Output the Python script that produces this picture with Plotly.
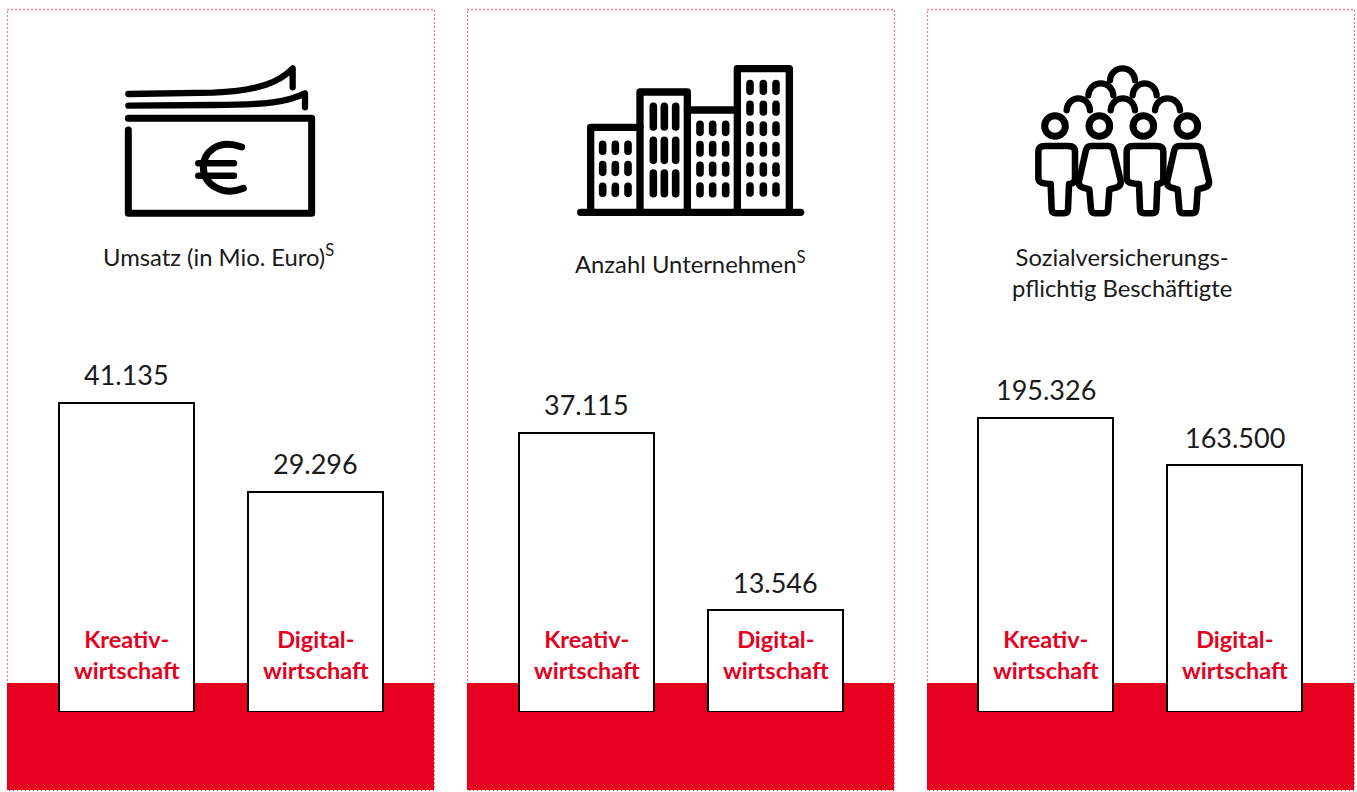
import re
import plotly.graph_objects as go

W, H = 1357, 792
RED = "#E5001F"
INK = "#1a1a1a"
FONT = "Lato"

categories = ["Kreativ-<br>wirtschaft", "Digital-<br>wirtschaft"]
umsatz = [41135, 29296]
unternehmen = [37115, 13546]
beschaeftigte = [195326, 163500]
umsatz_labels = ["41.135", "29.296"]
unternehmen_labels = ["37.115", "13.546"]
beschaeftigte_labels = ["195.326", "163.500"]
titles = ["Umsatz (in Mio. Euro)<sup>S</sup>", "Anzahl Unternehmen<sup>S</sup>",
          "Sozialversicherungs-<br>pflichtig Beschäftigte"]

BASE_PX = 712
panels = [
    dict(left=7, right=434, bar0=126.5, values=umsatz, labels=umsatz_labels, scale=309.5 / 41135,
         title=titles[0], tx=219, ty=255),
    dict(left=467, right=894, bar0=586.5, values=unternehmen, labels=unternehmen_labels, scale=309.5 / 41135,
         title=titles[1], tx=690, ty=262),
    dict(left=927, right=1354, bar0=1045.5, values=beschaeftigte, labels=beschaeftigte_labels, scale=294.5 / 195326,
         title=titles[2], tx=1122, ty=272),
]
STEP = 189
BAR_W = 135

fig = go.Figure()
shapes, annotations = [], []


def px(x):
    return x / W


def py(y):
    return 1 - y / H


def path(ox, oy, d, s=3):
    toks = re.findall(r"[A-Za-z]|-?\d+\.?\d*", d)
    out, i = [], 0
    for t in toks:
        if t.isalpha():
            out.append(t)
        else:
            v = float(t)
            if i % 2 == 0:
                out.append(f"{px(ox + v / s):.5f}")
            else:
                out.append(f"{py(oy + v / s):.5f}")
            i += 1
    return " ".join(out)


def stroke(ox, oy, d, width):
    shapes.append(dict(type="path", xref="paper", yref="paper", layer="above",
                       path=path(ox, oy, d), line=dict(color="#000000", width=width),
                       fillcolor="rgba(0,0,0,0)"))


for i, p in enumerate(panels):
    suffix = "" if i == 0 else str(i + 1)
    # background
    shapes.append(dict(type="rect", xref="paper", yref="paper", layer="below",
                       x0=px(p["left"] + 0.5), x1=px(p["right"] + 0.5), y0=py(9.5), y1=py(790),
                       line=dict(color=RED, width=1.3, dash="1px,3px"), fillcolor="white"))
    shapes.append(dict(type="rect", xref="paper", yref="paper", layer="below",
                       x0=px(p["left"]), x1=px(p["right"]), y0=py(683), y1=py(790),
                       line=dict(width=0), fillcolor=RED))
    fig.add_trace(go.Bar(
        x=categories, y=p["values"], width=BAR_W / STEP,
        marker=dict(color="white", line=dict(color="#000000", width=2)),
        xaxis="x" + suffix, yaxis="y" + suffix, showlegend=False, hoverinfo="skip",
    ))
    fig.update_layout({
        "xaxis" + suffix: dict(
            domain=[p["left"] / W, p["right"] / W], type="category", anchor="y" + suffix,
            range=[(p["left"] - p["bar0"]) / STEP, (p["right"] - p["bar0"]) / STEP],
            visible=False, fixedrange=True),
        "yaxis" + suffix: dict(
            domain=[(H - BASE_PX) / H, 1], anchor="x" + suffix,
            range=[0, BASE_PX / p["scale"]], visible=False, fixedrange=True),
    })
    for c, v, lab in zip(categories, p["values"], p["labels"]):
        annotations.append(dict(
            x=c, y=0, xref="x" + suffix, yref="y" + suffix, text=c, showarrow=False,
            yshift=58, yanchor="middle", xanchor="center", align="center",
            font=dict(family=FONT, size=23.5, color=RED, weight="bold")))
        annotations.append(dict(
            x=c, y=v, xref="x" + suffix, yref="y" + suffix, text=lab, showarrow=False,
            yshift=9.5, yanchor="bottom", xanchor="center", align="center",
            font=dict(family=FONT, size=27, color=INK)))
    annotations.append(dict(
        x=px(p["tx"]), y=py(p["ty"]), xref="paper", yref="paper", text=p["title"], showarrow=False,
        yanchor="middle", xanchor="center", align="center",
        font=dict(family=FONT, size=23.8, color=INK)))

# Euro note icon
ox, oy = 100, 50
stroke(ox, oy, "M 85 132 L 340 128 C 480 122 540 95 578 55 L 578 112", 6.3)
stroke(ox, oy, "M 85 167 L 340 165 C 500 165 565 155 615 130 L 615 172", 6.3)
stroke(ox, oy, "M 85 205 L 635 205 L 635 490 L 85 490 L 85 240", 7)
stroke(ox, oy, "M 425 291 C 350 265 310 310 310 350 C 310 405 370 440 430 415", 7)
stroke(ox, oy, "M 295 340 L 402 340", 6.5)
stroke(ox, oy, "M 295 377 L 402 377", 6.5)

# Buildings icon
ox, oy = 560, 50
stroke(ox, oy, "M 62 487 L 722 487", 7.3)
stroke(ox, oy, "M 92 487 L 92 232 L 240 232", 7.3)
stroke(ox, oy, "M 240 487 L 240 126 L 382 126 L 382 487", 7.3)
stroke(ox, oy, "M 382 180 L 532 180", 7.3)
stroke(ox, oy, "M 532 487 L 532 56 L 688 56 L 688 487", 7.3)
windows = [
    ([128, 166, 204], [(272, 315), (333, 378), (398, 441)]),
    ([280, 313, 347], [(158, 242), (260, 342), (358, 442)]),
    ([420, 458, 497], [(212, 258), (273, 320), (335, 380), (397, 442)]),
    ([570, 610, 648], [(90, 135), (152, 197), (214, 258), (276, 320), (337, 380), (397, 440)]),
]
for xs, rows in windows:
    for x in xs:
        for a, b in rows:
            stroke(ox, oy, f"M {x} {a + 11} L {x} {b - 11}", 7.6)

# People icon
ox, oy = 1000, 50
for (a, b, top) in [(330, 405, 55), (265, 340, 100), (398, 470, 100),
                    (200, 270, 145), (332, 405, 145), (465, 540, 145)]:
    y0 = top + 36
    stroke(ox, oy, f"M {a} {y0} C {a + 4} {top - 12} {b - 4} {top - 12} {b} {y0}", 6.3)
for cx in [165, 298, 430, 562]:
    r = 31
    shapes.append(dict(type="circle", xref="paper", yref="paper", layer="above",
                       x0=px(ox + (cx - r) / 3), x1=px(ox + (cx + r) / 3),
                       y0=py(oy + (228 - r) / 3), y1=py(oy + (228 + r) / 3),
                       line=dict(color="#000000", width=7)))
for dx in [0, 265]:
    stroke(ox, oy,
           f"M {135 + dx} 288 L {205 + dx} 288 Q {225 + dx} 288 {225 + dx} 305 L {225 + dx} 385 "
           f"Q {225 + dx} 402 {207 + dx} 402 L {204 + dx} 478 Q {203 + dx} 490 {192 + dx} 490 "
           f"L {168 + dx} 490 Q {156 + dx} 490 {155 + dx} 478 L {152 + dx} 402 "
           f"Q {115 + dx} 402 {115 + dx} 385 L {115 + dx} 305 Q {115 + dx} 288 {135 + dx} 288 Z", 6.5)
    stroke(ox, oy,
           f"M {272 + dx} 288 L {325 + dx} 288 Q {336 + dx} 288 {340 + dx} 300 L {362 + dx} 392 "
           f"Q {364 + dx} 408 {350 + dx} 412 L {328 + dx} 418 L {324 + dx} 478 Q {322 + dx} 490 {312 + dx} 490 "
           f"L {285 + dx} 490 Q {275 + dx} 490 {273 + dx} 478 L {268 + dx} 418 L {247 + dx} 412 "
           f"Q {234 + dx} 408 {237 + dx} 392 L {258 + dx} 300 Q {262 + dx} 288 {272 + dx} 288 Z", 6.5)

fig.update_layout(
    width=W, height=H, margin=dict(l=0, r=0, t=0, b=0, pad=0),
    paper_bgcolor="white", plot_bgcolor="rgba(0,0,0,0)",
    shapes=shapes, annotations=annotations, showlegend=False, bargap=0,
    font=dict(family=FONT, color=INK),
)

post = """
document.body.style.margin='0';
document.body.style.overflow='hidden';
var st=document.createElement('style');
st.textContent='.shapelayer path:not([style*="dasharray"]){stroke-linecap:round;stroke-linejoin:round}';
document.head.appendChild(st);
"""
fig.write_html("out.html", post_script=post, config={"displayModeBar": False})
